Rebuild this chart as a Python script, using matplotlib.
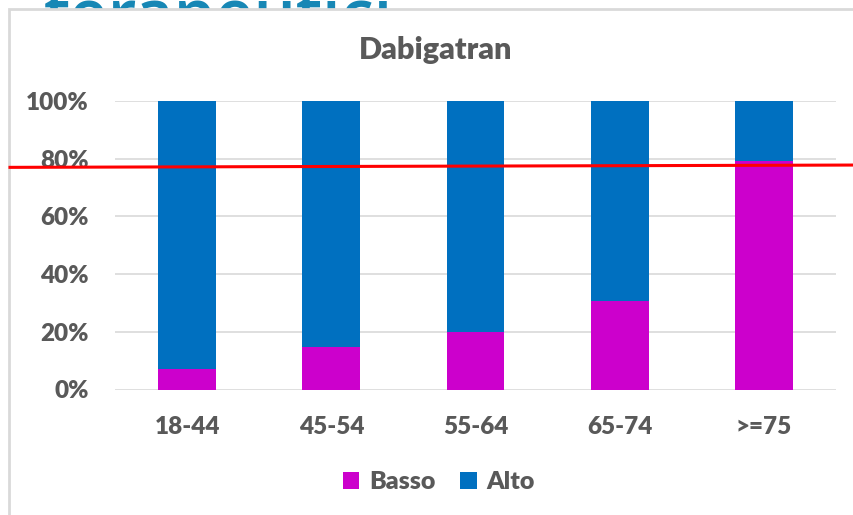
import matplotlib
matplotlib.use("Agg")
import matplotlib.pyplot as plt
from matplotlib.patches import Rectangle, Patch
from matplotlib.transforms import blended_transform_factory, Bbox

plt.rcParams['font.family'] = ['Lato', 'DejaVu Sans']

categories = ["18-44", "45-54", "55-64", "65-74", ">=75"]
basso = [0.07, 0.146, 0.20, 0.308, 0.791]
alto = [1 - v for v in basso]
threshold_left = 0.770
threshold_right = 0.778
yticks = [0, 0.2, 0.4, 0.6, 0.8, 1.0]
ytick_labels = ["0%", "20%", "40%", "60%", "80%", "100%"]

W, H = 854, 515
fig = plt.figure(figsize=(W / 100, H / 100), dpi=100)
fig.patch.set_facecolor("white")

def fx(px):
    return px / W

def fy(py):
    return 1 - py / H

# slide heading, only its upper strip shows above the chart frame
heading = fig.text(fx(44), fy(37), "terapeutici", fontsize=48, color="#1787B5",
                   family="Open Sans", fontweight="semibold", va="baseline",
                   ha="left", zorder=-3)
heading.set_clip_box(Bbox([[0, H - 9], [W, H]]))

# chart frame
frame = Rectangle((fx(9), fy(600)), fx(900), fy(9) - fy(600),
                  transform=fig.transFigure, facecolor="white",
                  edgecolor="#D9D9D9", linewidth=2, zorder=-2)
fig.patches.append(frame)

ax = fig.add_axes([fx(115), fy(389.5), fx(836) - fx(115), fy(101) - fy(389.5)])
ax.set_facecolor("none")

basso_color = "#CC00CC"
alto_color = "#0070C0"
text_color = "#595959"

x = list(range(len(categories)))
ax.bar(x, basso, width=0.40, color=basso_color, zorder=3, label="Basso")
ax.bar(x, alto, width=0.40, bottom=basso, color=alto_color, zorder=3, label="Alto")

ax.set_xlim(-0.5, len(categories) - 0.5)
ax.set_ylim(0, 1)
ax.set_yticks(yticks)
ax.set_yticklabels(ytick_labels)
ax.set_xticks(x)
ax.set_xticklabels(categories)
ax.yaxis.grid(True, color="#D9D9D9", linewidth=1.2, zorder=0)
ax.set_axisbelow(True)
for s in ax.spines.values():
    s.set_visible(False)
ax.tick_params(axis="both", length=0, labelsize=17.5, labelcolor=text_color)
ax.tick_params(axis="y", pad=19)
ax.tick_params(axis="x", pad=19)
for lab in ax.get_xticklabels() + ax.get_yticklabels():
    lab.set_fontweight("heavy")

fig.text(fx(436), fy(50), "Dabigatran", fontsize=22, fontweight="heavy",
         color=text_color, ha="center", va="center")

handles = [Patch(facecolor=basso_color, label="Basso"),
           Patch(facecolor=alto_color, label="Alto")]
fig.legend(handles=handles, loc="center", bbox_to_anchor=(fx(439), fy(482)),
           ncol=2, frameon=False, handlelength=0.65,
           handleheight=0.65, handletextpad=0.4, columnspacing=1.0,
           prop={"weight": "heavy", "size": 18}, labelcolor=text_color)

# red reference line across the slide
trans = blended_transform_factory(fig.transFigure, ax.transData)
ax.plot([fx(10), 1.0], [threshold_left, threshold_right], color="#FF0000",
        linewidth=2.2, transform=trans, clip_on=False, zorder=10)

fig.savefig("out.png", dpi=100, facecolor="white")
